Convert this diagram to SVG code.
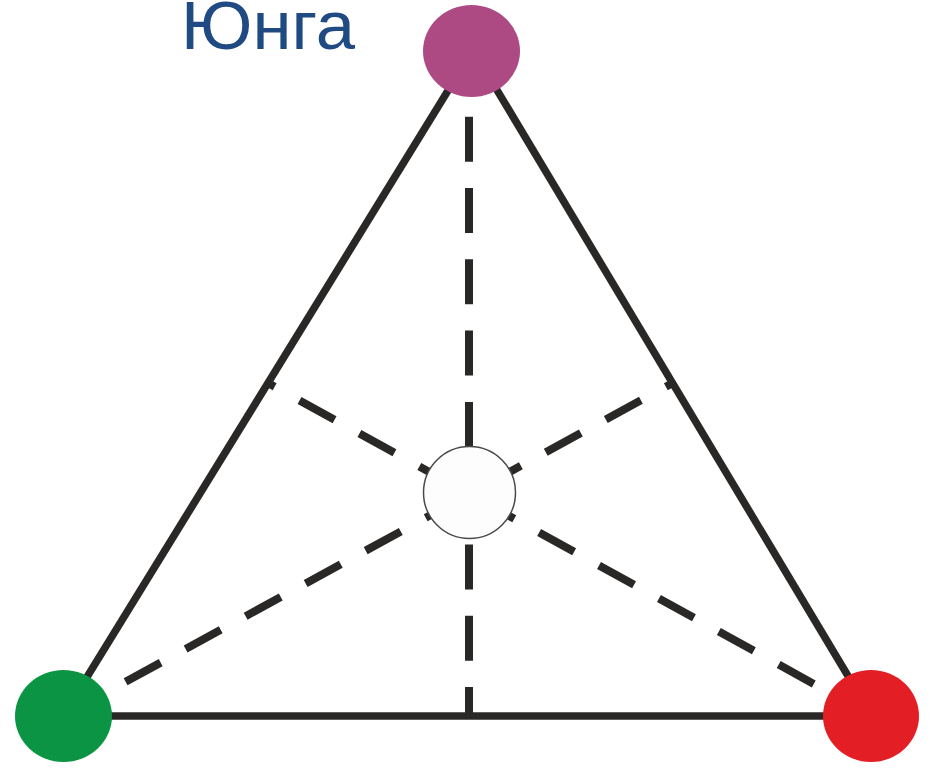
<svg xmlns="http://www.w3.org/2000/svg" width="932" height="768" viewBox="0 0 932 768">
  <style>
    .solid { stroke: #2a2826; stroke-width: 7.5; fill: none; }
    .dash { stroke: #2a2826; stroke-width: 8; fill: none; }
    .diag { stroke-dasharray: 40 28.4; stroke-dashoffset: 32.4; }
    .vert { stroke-dasharray: 45 26.3; }
    .label { font-family: "Liberation Sans", Arial, sans-serif; font-size: 68px; fill: #1f4a82; }
  </style>
  <rect width="932" height="768" fill="#ffffff"/>
  <g id="connectors">
    <line class="solid" x1="473" y1="50" x2="63" y2="716"/>
    <line class="solid" x1="473" y1="50" x2="872" y2="716"/>
    <line class="solid" x1="63" y1="716" x2="872" y2="716"/>
    <line class="dash vert" x1="469" y1="116.7" x2="469" y2="716"/>
    <line class="dash diag" x1="268" y1="383" x2="872" y2="716"/>
    <line class="dash diag" x1="672.5" y1="383" x2="63" y2="716"/>
  </g>
  <g id="label">
    <text class="label" x="181" y="49" textLength="174" lengthAdjust="spacingAndGlyphs">Юнга</text>
  </g>
  <g id="node-center">
    <circle cx="469.5" cy="492.5" r="46" fill="#fdfdfd" stroke="#4a4a4a" stroke-width="1.5"/>
  </g>
  <g id="node-top">
    <ellipse cx="471.5" cy="51" rx="48.5" ry="46" fill="#ad4a84"/>
  </g>
  <g id="node-green">
    <ellipse cx="63.5" cy="716" rx="48.5" ry="46" fill="#0a9443"/>
  </g>
  <g id="node-red">
    <ellipse cx="871" cy="716" rx="48" ry="46" fill="#e31e24"/>
  </g>
</svg>
